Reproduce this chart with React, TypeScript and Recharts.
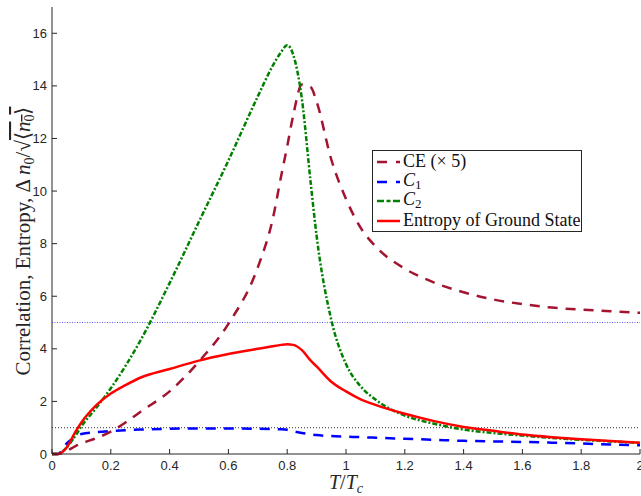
import React from 'react';
import { LineChart, Line, XAxis, YAxis, ReferenceLine, Label } from 'recharts';

// T / Tc sample points
const tValues = [0, 0.02, 0.05, 0.08, 0.1, 0.15, 0.2, 0.25, 0.3, 0.4, 0.5, 0.6, 0.7, 0.75, 0.78, 0.8, 0.82, 0.85, 0.88, 0.9, 0.95, 1.0, 1.05, 1.1, 1.2, 1.3, 1.4, 1.5, 1.6, 1.7, 1.8, 1.9, 2.0];

const ceTimes5 = [0, 0, 0.12, 0.3, 0.4, 0.6, 0.85, 1.2, 1.6, 2.38, 3.52, 4.95, 7.1, 8.9, 10.6, 11.7, 12.85, 14.05, 13.95, 13.4, 11.2, 9.7, 8.6, 7.9, 7.05, 6.52, 6.15, 5.88, 5.7, 5.57, 5.49, 5.43, 5.37];
const c1 = [0, 0, 0.4, 0.65, 0.76, 0.83, 0.87, 0.9, 0.93, 0.96, 0.97, 0.97, 0.96, 0.95, 0.94, 0.92, 0.87, 0.8, 0.75, 0.72, 0.68, 0.66, 0.64, 0.62, 0.58, 0.54, 0.5, 0.48, 0.46, 0.43, 0.4, 0.36, 0.33];
const c2 = [0, 0, 0.25, 0.7, 1.05, 1.75, 2.5, 3.35, 4.3, 6.5, 8.84, 11.16, 13.6, 14.75, 15.3, 15.55, 15.2, 13.5, 10.3, 8.3, 5.1, 3.42, 2.57, 2.07, 1.46, 1.15, 0.93, 0.8, 0.7, 0.61, 0.54, 0.48, 0.42];
const entropy = [0, 0, 0.25, 0.85, 1.2, 1.85, 2.3, 2.62, 2.9, 3.23, 3.55, 3.8, 4.0, 4.1, 4.15, 4.17, 4.15, 3.95, 3.55, 3.33, 2.75, 2.38, 2.08, 1.87, 1.53, 1.25, 1.03, 0.88, 0.74, 0.64, 0.56, 0.49, 0.43];

const xTicks = [0, 0.2, 0.4, 0.6, 0.8, 1, 1.2, 1.4, 1.6, 1.8, 2];
const yTicks = [0, 2, 4, 6, 8, 10, 12, 14, 16];

const data = tValues.map((t, i) => ({
  t,
  ce: ceTimes5[i],
  c1: c1[i],
  c2: c2[i],
  entropy: entropy[i],
}));

const AXIS = '#262626';
const SANS = '"Liberation Sans", Arial, sans-serif';
const SERIF = '"Liberation Serif", "Times New Roman", serif';

const subStyle = { fontSize: 13, verticalAlign: '-3px' };

const legendItems = [
  { key: 'ce', color: '#A2142F', dash: '10 9', label: <span>CE (× 5)</span> },
  { key: 'c1', color: '#0000FF', dash: '10 9', label: <span><i>C</i><sub style={subStyle}>1</sub></span> },
  { key: 'c2', color: '#008000', dash: '7 2.5 4 2.5', label: <span><i>C</i><sub style={subStyle}>2</sub></span> },
  { key: 'entropy', color: '#FF0000', dash: undefined, label: <span>Entropy of Ground State</span> },
];

function YTitle() {
  return (
    <text transform="translate(30,241) rotate(-90)" textAnchor="middle" fontFamily={SERIF} fontSize={21} fill={AXIS}>
      Correlation, Entropy, Δ <tspan fontStyle="italic">n</tspan>
      <tspan fontSize={14} dy={4}>0</tspan>
      <tspan dy={-4}>/√</tspan>
      <tspan textDecoration="overline">⟨<tspan fontStyle="italic">n</tspan><tspan fontSize={14} dy={4}>0</tspan><tspan dy={-4}>⟩</tspan></tspan>
    </text>
  );
}

function XTitle() {
  return (
    <text x={346} y={489} textAnchor="middle" fontFamily={SERIF} fontSize={20} fill={AXIS}>
      <tspan fontStyle="italic">T</tspan>/<tspan fontStyle="italic">T</tspan>
      <tspan fontStyle="italic" fontSize={14} dy={4}>c</tspan>
    </text>
  );
}

export default function App() {
  return (
    <div style={{ position: 'absolute', left: 0, top: 0, width: 641, height: 496, background: '#fff' }}>
      <LineChart width={641} height={496} data={data} margin={{ top: 7, right: 1, left: 0, bottom: 0 }}>
        <XAxis
          dataKey="t"
          type="number"
          domain={[0, 2]}
          ticks={xTicks}
          interval={0}
          height={42}
          stroke={AXIS}
          tickSize={-5}
          tickMargin={12}
          tick={{ fill: AXIS, fontSize: 13, fontFamily: SANS }}
          tickFormatter={(v: number) => String(Number(v.toFixed(1)))}
        >
          <Label content={() => <XTitle />} />
        </XAxis>
        <YAxis
          type="number"
          domain={[0, 17]}
          ticks={yTicks}
          interval={0}
          width={52}
          stroke={AXIS}
          tickSize={-5}
          tickMargin={10}
          tick={{ fill: AXIS, fontSize: 13, fontFamily: SANS }}
        >
          <Label content={() => <YTitle />} />
        </YAxis>
        <ReferenceLine y={5} stroke="#5a5aff" strokeWidth={1} strokeDasharray="1 1.5" />
        <ReferenceLine y={1} stroke="#333" strokeWidth={1} strokeDasharray="1 2" />
        <Line type="monotone" dataKey="ce" stroke="#A2142F" strokeWidth={2.5} strokeDasharray="10 8" dot={false} isAnimationActive={false} />
        <Line type="monotone" dataKey="c1" stroke="#0000FF" strokeWidth={2.5} strokeDasharray="10 8" dot={false} isAnimationActive={false} />
        <Line type="monotone" dataKey="c2" stroke="#008000" strokeWidth={2.5} strokeDasharray="5 2 2 2" dot={false} isAnimationActive={false} />
        <Line type="monotone" dataKey="entropy" stroke="#FF0000" strokeWidth={2.5} dot={false} isAnimationActive={false} />
      </LineChart>
      <div
        style={{
          position: 'absolute',
          left: 372,
          top: 150,
          width: 208,
          paddingTop: 1,
          paddingBottom: 1,
          border: `1px solid ${AXIS}`,
          background: '#fff',
          fontFamily: SERIF,
          fontSize: 18,
          color: '#111',
        }}
      >
        {legendItems.map((item) => (
          <div key={item.key} style={{ display: 'flex', alignItems: 'center', height: 19.5, whiteSpace: 'nowrap' }}>
            <svg width={30} height={19.5} style={{ flex: 'none' }}>
              <line x1={4} x2={27} y1={10} y2={10} stroke={item.color} strokeWidth={2.5} strokeDasharray={item.dash} />
            </svg>
            {item.label}
          </div>
        ))}
      </div>
    </div>
  );
}
